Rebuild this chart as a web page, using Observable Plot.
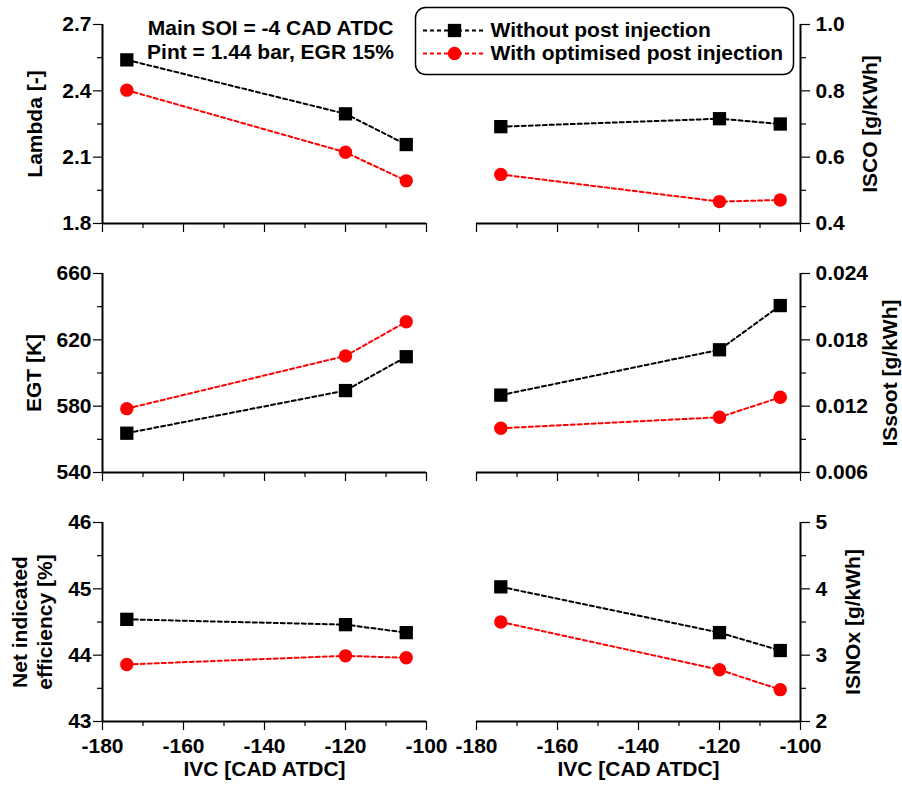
<!DOCTYPE html>
<html><head><meta charset="utf-8">
<script src="https://cdn.jsdelivr.net/npm/d3@7"></script>
<script src="https://cdn.jsdelivr.net/npm/@observablehq/plot@0.6"></script>
<style>
body{margin:0;background:#fff;}
#chart{position:relative;width:902px;height:787px;background:#fff;overflow:hidden;}
#chart svg{position:absolute;}
</style></head><body><div id="chart"></div>
<script>
// ---- data ----
const ivc = [-174, -120, -105];
const seriesNames = ["Without post injection", "With optimised post injection"];
const lambdaWithout = [2.54, 2.296, 2.157];
const lambdaWith = [2.403, 2.122, 1.993];
const iscoWithout = [0.692, 0.716, 0.700];
const iscoWith = [0.548, 0.466, 0.471];
const egtWithout = [563.7, 589.4, 609.8];
const egtWith = [578.5, 610.3, 630.9];
const sootWithout = [0.0130, 0.0171, 0.0211];
const sootWith = [0.0100, 0.0110, 0.0128];
const effWithout = [44.54, 44.46, 44.34];
const effWith = [43.86, 43.99, 43.96];
const noxWithout = [4.03, 3.34, 3.07];
const noxWith = [3.50, 2.78, 2.48];

const xTicks = [-180, -160, -140, -120, -100];
const xMinor = [-170, -150, -130, -110];
const lambdaTicks = [1.8, 2.1, 2.4, 2.7], lambdaMinor = [1.95, 2.25, 2.55];
const iscoTicks = [0.4, 0.6, 0.8, 1.0], iscoMinor = [0.5, 0.7, 0.9];
const egtTicks = [540, 580, 620, 660], egtMinor = [560, 600, 640];
const sootTicks = [0.006, 0.012, 0.018, 0.024], sootMinor = [0.009, 0.015, 0.021];
const effTicks = [43, 44, 45, 46], effMinor = [43.5, 44.5, 45.5];
const noxTicks = [2, 3, 4, 5], noxMinor = [2.5, 3.5, 4.5];
const xLabel = "IVC [CAD ATDC]";
const annotLines = ["Main SOI = -4 CAD ATDC", "Pint = 1.44 bar, EGR 15%"];

const FONT = "'Liberation Sans', Arial, Helvetica, sans-serif";
const baseStyle = {fontFamily: FONT, fontSize: "21px", fontWeight: "bold", background: "transparent", overflow: "visible", color: "black"};
const TICKFONT = 21;
const dash = "4,3";
const rows = [
  {top: 0, h: 250, mt: 24, mb: 27},
  {top: 250, h: 250, mt: 23, mb: 28},
  {top: 500, h: 287, mt: 22, mb: 66}
];
const chart = document.getElementById("chart");

function panel({col, row, without, withv, ticks, minor, fmt, label, labelDx, showX, extra = []}) {
  const R = rows[row];
  const left = col === 0 ? 0 : 451;
  const toRows = (vals) => ivc.map((x, i) => ({x, y: vals[i]}));
  const dW = toRows(without), dO = toRows(withv);
  const ydom = [ticks[0], ticks[ticks.length - 1]];
  const anchor = col === 0 ? "left" : "right";
  const marks = [
    Plot.axisX({ticks: xTicks, tickSize: 9, tickPadding: 8, tickFormat: showX ? (d) => String(d) : () => "", label: null, strokeWidth: 1.2, fontSize: TICKFONT}),
    Plot.axisX({ticks: xMinor, tickSize: 5, tickFormat: () => "", label: null, strokeWidth: 1.2}),
    Plot.axisY({anchor, ticks, tickSize: 9, tickPadding: col === 0 ? 2 : 6, tickFormat: fmt, label: null, strokeWidth: 1.2, fontSize: TICKFONT}),
    Plot.axisY({anchor, ticks: minor, tickSize: 5, tickFormat: () => "", label: null, strokeWidth: 1.2}),
    Plot.ruleX([col === 0 ? -180 : -100], {strokeWidth: 2}),
    Plot.ruleY([ydom[0]], {strokeWidth: 2}),
    Plot.line(dW, {x: "x", y: "y", stroke: "black", strokeWidth: 2, strokeDasharray: dash}),
    Plot.line(dO, {x: "x", y: "y", stroke: "red", strokeWidth: 2, strokeDasharray: dash}),
    Plot.dot(dW, {x: "x", y: "y", symbol: "square", r: 7.5, fill: "black"}),
    Plot.dot(dO, {x: "x", y: "y", symbol: "circle", r: 6.7, fill: "red"}),
    Plot.text([label], {frameAnchor: anchor, rotate: -90, dx: labelDx, text: (d) => d, textAnchor: "middle", lineAnchor: "middle", lineHeight: 1.2}),
    ...extra
  ];
  if (showX) marks.push(Plot.text([xLabel], {frameAnchor: "bottom", dy: 48, text: (d) => d, lineAnchor: "middle"}));
  const svg = Plot.plot({
    width: 451, height: R.h,
    marginLeft: col === 0 ? 102 : 25, marginRight: col === 0 ? 25 : 102,
    marginTop: R.mt, marginBottom: R.mb,
    x: {domain: [-180, -100]},
    y: {domain: ydom},
    style: baseStyle,
    marks
  });
  svg.style.left = left + "px";
  svg.style.top = R.top + "px";
  chart.appendChild(svg);
}

const f1 = d3.format(".1f"), f3 = d3.format(".3f"), f0 = d3.format("d");
panel({col: 0, row: 0, without: lambdaWithout, withv: lambdaWith, ticks: lambdaTicks, minor: lambdaMinor, fmt: f1, label: "Lambda [-]", labelDx: -69, showX: false,
  extra: [Plot.text([annotLines.join("\n")], {frameAnchor: "top", lineAnchor: "top", dx: 6, dy: -7, lineHeight: 1.15, text: (d) => d})]});
panel({col: 1, row: 0, without: iscoWithout, withv: iscoWith, ticks: iscoTicks, minor: iscoMinor, fmt: f1, label: "ISCO [g/KWh]", labelDx: 68, showX: false});
panel({col: 0, row: 1, without: egtWithout, withv: egtWith, ticks: egtTicks, minor: egtMinor, fmt: f0, label: "EGT [K]", labelDx: -70, showX: false});
panel({col: 1, row: 1, without: sootWithout, withv: sootWith, ticks: sootTicks, minor: sootMinor, fmt: f3, label: "ISsoot [g/kWh]", labelDx: 88, showX: false});
panel({col: 0, row: 2, without: effWithout, withv: effWith, ticks: effTicks, minor: effMinor, fmt: f0, label: "Net indicated\nefficiency [%]", labelDx: -71, showX: true});
panel({col: 1, row: 2, without: noxWithout, withv: noxWith, ticks: noxTicks, minor: noxMinor, fmt: f0, label: "ISNOx [g/kWh]", labelDx: 51, showX: true});

// ---- legend ----
const legend = Plot.plot({
  width: 381, height: 70,
  marginLeft: 1, marginRight: 2, marginTop: 1, marginBottom: 2,
  x: {domain: [0, 378], axis: null},
  y: {type: "point", domain: seriesNames, range: [24, 47], padding: 0, axis: null},
  color: {domain: seriesNames, range: ["black", "red"]},
  style: baseStyle,
  marks: [
    Plot.frame({rx: 10, ry: 10, stroke: "black", strokeWidth: 1.5, fill: "white"}),
    Plot.ruleY(seriesNames, {y: (d) => d, x1: 8, x2: 70, stroke: (d) => d, strokeWidth: 2, strokeDasharray: dash}),
    Plot.dot([seriesNames[0]], {x: 39, y: (d) => d, symbol: "square", r: 7.5, fill: "black"}),
    Plot.dot([seriesNames[1]], {x: 39, y: (d) => d, symbol: "circle", r: 6.7, fill: "red"}),
    Plot.text(seriesNames, {x: 75, y: (d) => d, text: (d) => d, textAnchor: "start", fill: "black"})
  ]
});
legend.style.left = "414px";
legend.style.top = "6px";
chart.appendChild(legend);
</script>
</body></html>
